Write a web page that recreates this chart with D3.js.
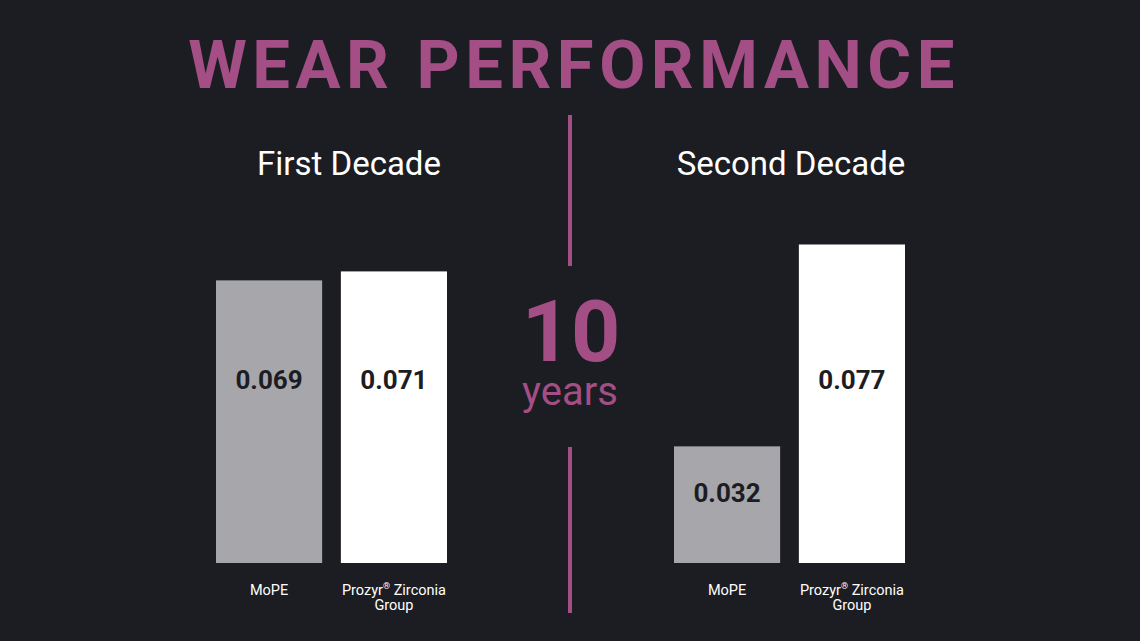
<!DOCTYPE html>
<html><head><meta charset="utf-8">
<script src="https://cdn.jsdelivr.net/npm/d3@7"></script>
<style>
html,body{margin:0;padding:0;background:#1c1d22;}
svg{display:block;}
</style></head>
<body>
<svg id="c" width="1140" height="641"></svg>
<script>
const decades = ["First Decade", "Second Decade"];
const categories = ["MoPE", "Prozyr® Zirconia Group"];
const firstDecade = [0.069, 0.071];
const secondDecade = [0.032, 0.077];
const valueLabels = [["0.069","0.071"],["0.032","0.077"]];
const centerNumber = "10";
const centerUnit = "years";
const title = "WEAR PERFORMANCE";

const W = 1140, H = 641;
const bg = "#1c1d22", purple = "#a34f86", gray = "#a7a6ab";
const svg = d3.select("#c");
svg.append("rect").attr("width", W).attr("height", H).attr("fill", bg);

svg.append("text").attr("x", 574).attr("y", 88).attr("text-anchor", "middle")
  .attr("font-family", "Roboto").attr("font-weight", 700).attr("font-size", 67)
  .attr("letter-spacing", 5.5).attr("fill", purple).text(title);

// divider
svg.append("line").attr("x1", 570).attr("x2", 570).attr("y1", 115).attr("y2", 266)
  .attr("stroke", purple).attr("stroke-width", 4);
svg.append("line").attr("x1", 570).attr("x2", 570).attr("y1", 447).attr("y2", 613)
  .attr("stroke", purple).attr("stroke-width", 4);
svg.append("text").attr("x", 571).attr("y", 361).attr("text-anchor", "middle")
  .attr("font-family", "Roboto").attr("font-weight", 700).attr("font-size", 86)
  .attr("fill", purple).text(centerNumber);
svg.append("text").attr("x", 570).attr("y", 405).attr("text-anchor", "middle")
  .attr("font-family", "Roboto").attr("font-weight", 400).attr("font-size", 40)
  .attr("fill", purple).text(centerUnit);

const baseY = 563;
const h = d3.scaleLinear().domain([0.006, 0.078]).range([0, 323]);
const panels = [
  {name: decades[0], values: firstDecade, labels: valueLabels[0], x0: 216, cx: 349},
  {name: decades[1], values: secondDecade, labels: valueLabels[1], x0: 674, cx: 791}
];
const xb = d3.scaleBand().domain(categories).range([0, 231]).paddingInner(0.15).paddingOuter(0);
const fills = [gray, "#ffffff"];

panels.forEach(p => {
  const g = svg.append("g").attr("transform", `translate(${p.x0},0)`);
  svg.append("text").attr("x", p.cx).attr("y", 175).attr("text-anchor", "middle")
    .attr("font-family", "Roboto").attr("font-weight", 400).attr("font-size", 33)
    .attr("fill", "#ffffff").text(p.name);
  categories.forEach((c, i) => {
    const v = p.values[i];
    const top = baseY - h(v);
    g.append("rect").attr("x", xb(c)).attr("y", top).attr("width", xb.bandwidth())
      .attr("height", h(v)).attr("fill", fills[i]);
    const ly = Math.max(389, top + 56);
    g.append("text").attr("x", xb(c) + xb.bandwidth() / 2).attr("y", ly)
      .attr("text-anchor", "middle").attr("font-family", "Roboto").attr("font-weight", 700)
      .attr("font-size", 26).attr("fill", bg).text(p.labels[i]);
    const lab = g.append("text").attr("x", xb(c) + xb.bandwidth() / 2).attr("y", 595)
      .attr("text-anchor", "middle").attr("font-family", "Roboto").attr("font-size", 14.5)
      .attr("fill", "#ffffff");
    if (c.indexOf("Group") >= 0) {
      const t1 = lab.append("tspan").attr("x", xb(c) + xb.bandwidth() / 2);
      t1.append("tspan").text("Prozyr");
      t1.append("tspan").attr("font-size", 9).attr("dy", -6).text("®");
      t1.append("tspan").attr("dy", 6).text(" Zirconia");
      lab.append("tspan").attr("x", xb(c) + xb.bandwidth() / 2).attr("dy", 15).text("Group");
    } else {
      lab.text(c);
    }
  });
});
</script>
</body></html>
